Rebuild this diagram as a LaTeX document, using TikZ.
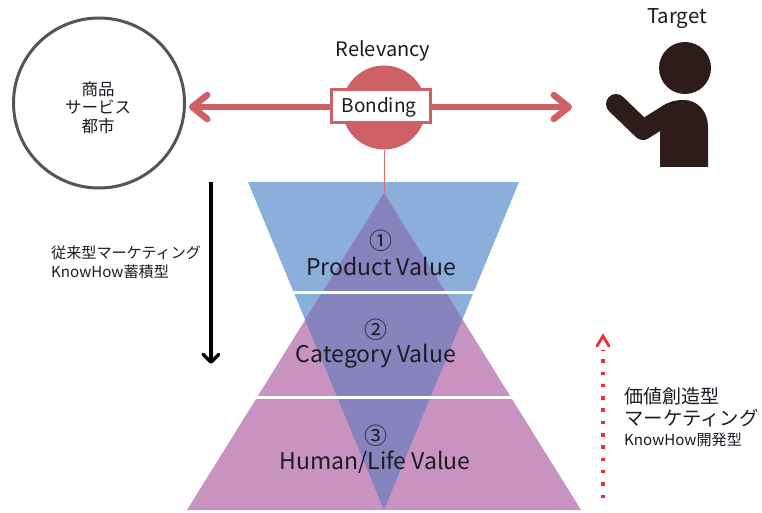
\documentclass[tikz,border=0pt]{standalone}
\usepackage{fontspec}
\setmainfont{Noto Sans CJK JP}
\usetikzlibrary{arrows.meta,calc,shapes.geometric}
\definecolor{lnk}{HTML}{CE6165}
\definecolor{blu}{HTML}{8BAEDB}
\definecolor{pnk}{HTML}{C893C1}
\definecolor{ovl}{HTML}{8783BD}
\definecolor{dk}{HTML}{2E1C1B}
\definecolor{rd}{HTML}{EE2A34}
\definecolor{gr}{HTML}{555555}
\definecolor{tx}{HTML}{1E1A24}
\newcommand{\fs}[1]{\fontsize{#1}{#1}\selectfont}
\tikzset{
  lbl/.style={inner sep=0pt,text=tx,align=center},
  lftlbl/.style={inner sep=0pt,text=tx,anchor=west},
  bigarrow/.style={draw=lnk,line width=6.5pt,-{Straight Barb[round,length=15pt,width=24pt,line width=6.5pt]}},
  sep/.style={draw=white,line width=3pt},
}
\begin{document}
\begin{tikzpicture}[x=1pt,y=-1pt]
\useasboundingbox (0,0) rectangle (762,513);
\fill[white] (0,0) rectangle (762,513);
% coordinates
\coordinate (invL) at (248,182);
\coordinate (invR) at (519,182);
\coordinate (invB) at (384,510);
\coordinate (upT) at (384,193);
\coordinate (upL) at (187,510);
\coordinate (upR) at (581,510);
% triangles
\fill[blu] (invL)--(invR)--(invB)--cycle;
\fill[pnk] (upT)--(upL)--(upR)--cycle;
\begin{scope}
\clip (invL)--(invR)--(invB)--cycle;
\fill[ovl] (upT)--(upL)--(upR)--cycle;
\end{scope}
\coordinate (s1a) at (293,292); \coordinate (s1b) at (475,292);
\coordinate (s2a) at (254,397); \coordinate (s2b) at (515,397);
\draw[sep] (s1a)--(s1b);
\draw[sep] (s2a)--(s2b);
% top row
\node[circle,fill=lnk,minimum size=84pt,inner sep=0pt] (rel) at (384,107.5) {};
\draw[draw=lnk!85!pink,line width=1pt] (rel.south)--(upT);
\node[draw=gr,line width=3pt,ellipse,inner sep=0pt,minimum width=171pt,minimum height=170pt] (item) at (99,103) {};
\node[lbl,font=\fs{16.5}] (i1) at (98,89) {商品};
\node[lbl,font=\fs{16.5}] (i2) at (98,107) {サービス};
\node[lbl,font=\fs{16.5}] (i3) at (98,126) {都市};
\coordinate (tipL) at (189,107);
\coordinate (tipR) at (572,107);
\node[draw=lnk,fill=white,line width=3pt,minimum width=99pt,minimum height=33pt,inner sep=0pt] (bond) at (381,106) {};
\draw[bigarrow] (bond.west|-tipL)--(tipL);
\draw[bigarrow] (bond.east|-tipR)--(tipR);
\node[lbl,font=\fs{19}] (bondt) at (379,107.5) {Bonding};
\node[lbl,font=\fs{20}] (relt) at (383,50.5) {Relevancy};
\node[lbl,font=\fs{20.4}] (tgt) at (677,18.5) {Target};
% person
\fill[dk] (685,68) circle (26);
\fill[dk] (644,118)--(668,103) .. controls (675,100) and (680,100) .. (684,100)
  .. controls (698,100) and (708,112) .. (708,127) -- (708,167) -- (660,167) -- (660,125)--cycle;
\draw[dk,line width=20pt,line cap=round,line join=round] (616,104)--(643,130)--(670,113);
% pyramid labels
\node[lbl,font=\fs{23}] (n1) at (381,241) {①};
\node[lbl,font=\fs{23}] (p1) at (381,266) {Product Value};
\node[lbl,font=\fs{23}] (n2) at (376,330) {②};
\node[lbl,font=\fs{23}] (p2) at (376,356.5) {Category Value};
\node[lbl,font=\fs{23}] (n3) at (376,436) {③};
\node[lbl,font=\fs{23}] (p3) at (375,462) {Human/Life Value};
% left
\coordinate (ba) at (211,182); \coordinate (bb) at (211,364);
\draw[black,line width=3.5pt,-{Straight Barb[round,length=8pt,width=16pt,line width=3.5pt]}] (ba)--(bb);
\node[lftlbl,font=\fs{15.1}] (l1) at (51,252.5) {従来型マーケティング};
\node[lftlbl,font=\fs{15.1}] (l2) at (51,271.5) {KnowHow蓄積型};
% right
\coordinate (ra) at (603,498); \coordinate (rb) at (603,350); \coordinate (rc) at (603,336);
\draw[rd,line width=3.5pt,dash pattern=on 3.5pt off 8.8pt] (ra)--(rb);
\draw[rd,line width=2.8pt,line cap=round,line join=miter] (597,346)--(rc)--(609,346);
\node[lftlbl,font=\fs{19}] (r1) at (624,396.5) {価値創造型};
\node[lftlbl,font=\fs{19.4}] (r2) at (624,418.5) {マーケティング};
\node[lftlbl,font=\fs{15.1}] (r3) at (624,439.5) {KnowHow開発型};
\end{tikzpicture}
\end{document}
